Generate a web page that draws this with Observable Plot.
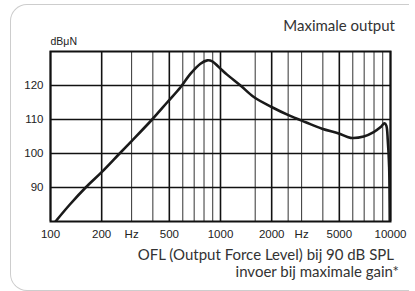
<!DOCTYPE html>
<html>
<head>
<meta charset="utf-8">
<script src="https://cdn.jsdelivr.net/npm/d3@7"></script>
<script src="https://cdn.jsdelivr.net/npm/@observablehq/plot@0.6"></script>
<style>
  html, body { margin: 0; padding: 0; background: #fff; }
  #wrap { position: relative; width: 415px; height: 291px; overflow: hidden; }
  #card { position: absolute; left: 10px; top: 4px; width: 398px; height: 285px;
          border: 1.5px solid #cdcdcd; border-right: none; border-radius: 17px 0 0 17px; }
  #chart { position: absolute; left: 0; top: 0; }
  .txt { position: absolute; font-family: Lato, "Open Sans", sans-serif; font-size: 15px;
         line-height: 15px; color: #333; white-space: nowrap; text-align: right; }
</style>
</head>
<body>
<div id="wrap">
  <div id="card"></div>
  <div id="chart"></div>
  <div class="txt" id="title" style="right:20px; top:17.5px;">Maximale output</div>
  <div class="txt" id="cap1" style="right:21px; top:246.5px;">OFL (Output Force Level) bij 90 dB SPL</div>
  <div class="txt" id="cap2" style="right:16px; top:263.5px;">invoer bij maximale gain*</div>
</div>
<script>
// Curve readings (frequency in Hz, level in dBμN)
const freq = [107, 130, 161, 200, 255, 302, 396, 485, 582, 665, 762, 836, 895, 978, 1093, 1311, 1570, 2010, 2530, 3170, 3960, 4960, 5820, 6960, 7960, 8720, 9220, 9450, 9640, 9820, 9880, 9900];
const level = [80, 85, 90, 94.5, 100, 103.8, 110, 115, 119.5, 123.4, 126.4, 127.4, 127.1, 125.4, 123.2, 120, 116.6, 113.6, 111.2, 109.2, 107.3, 105.9, 104.6, 105.0, 106.3, 107.7, 108.9, 108.2, 103.8, 96, 86, 80];

const gridMajor = [100, 200, 500, 1000, 2000, 5000, 10000];
const gridMinor = [300, 400, 600, 700, 800, 900, 1600, 2500, 3000, 4000, 6000, 7000, 8000, 9000];
const yTicks = [90, 100, 110, 120];
const xTickValues = [100, 200, 300, 500, 1000, 2000, 3000, 5000, 10000];
const xTickLabels = ["100", "200", "Hz", "500", "1000", "2000", "Hz", "5000", "10000"];
const yUnit = "dBμN";

const data = freq.map((f, i) => ({f, db: level[i]}));
const xTicks = xTickValues.map((v, i) => ({v, label: xTickLabels[i]}));

const chart = Plot.plot({
  width: 415,
  height: 245,
  marginLeft: 50,
  marginRight: 25,
  marginTop: 51,
  marginBottom: 24,
  style: {background: "transparent", fontFamily: "'Liberation Sans', Arial, sans-serif", fontSize: "11.5px", color: "#222"},
  x: {type: "log", domain: [100, 10000], axis: null},
  y: {domain: [80, 130], axis: null},
  marks: [
    Plot.ruleX(gridMinor, {stroke: "#333", strokeWidth: 1}),
    Plot.ruleX(gridMajor, {stroke: "#111", strokeWidth: 1.6}),
    Plot.ruleY(yTicks, {stroke: "#111", strokeWidth: 1.6}),
    Plot.frame({stroke: "#111", strokeWidth: 2}),
    Plot.line(data, {x: "f", y: "db", curve: "catmull-rom", stroke: "#1a1a1a", strokeWidth: 2.6, clip: true}),
    Plot.text(xTicks, {x: "v", text: "label", frameAnchor: "bottom", lineAnchor: "top", dy: 8, fill: "#222", fontSize: 11.5}),
    Plot.text(yTicks, {y: d => d, text: d => String(d), frameAnchor: "left", textAnchor: "end", dx: -7, fill: "#222", fontSize: 11.5}),
    Plot.text([yUnit], {frameAnchor: "top-left", textAnchor: "start", lineAnchor: "bottom", dy: -7, fontSize: 10.5, fill: "#222"})
  ]
});
document.getElementById("chart").appendChild(chart);
</script>
</body>
</html>
